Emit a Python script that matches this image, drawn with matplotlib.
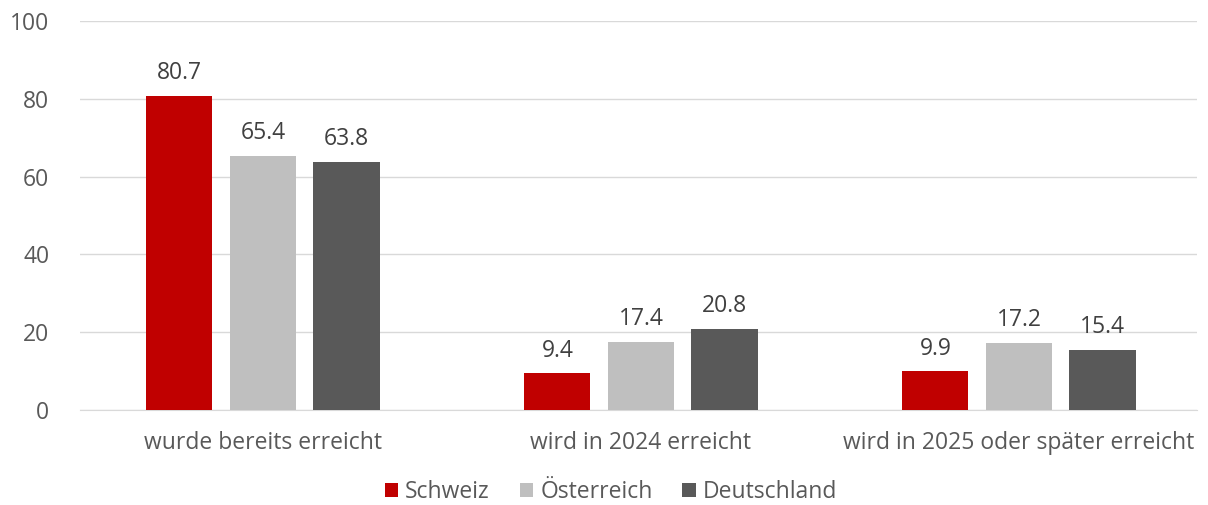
import matplotlib
matplotlib.use("Agg")
import matplotlib.pyplot as plt
import numpy as np

categories = ["wurde bereits erreicht", "wird in 2024 erreicht", "wird in 2025 oder später erreicht"]
series_names = ["Schweiz", "Österreich", "Deutschland"]
schweiz = [80.7, 9.4, 9.9]
oesterreich = [65.4, 17.4, 17.2]
deutschland = [63.8, 20.8, 15.4]
yticks = [0, 20, 40, 60, 80, 100]

colors = ["#C00000", "#BFBFBF", "#595959"]
txt = "#595959"
fs = 16.5
plt.rcParams['font.family'] = ['Open Sans', 'DejaVu Sans']

fig = plt.figure(figsize=(12.08, 5.05), dpi=100)
ax = fig.add_axes([80 / 1208, 1 - 410 / 505, 1117 / 1208, 389 / 505])

x = np.arange(len(categories))
w = 0.175
step = 0.221
for i, (vals, name, c) in enumerate(zip([schweiz, oesterreich, deutschland], series_names, colors)):
    pos = x + (i - 1) * step
    ax.bar(pos, vals, width=w, color=c, label=name, zorder=3)
    for p, v in zip(pos, vals):
        ax.text(p, v + 2.8, f"{v:.1f}", ha="center", va="bottom", fontsize=fs, color="#404040")

ax.set_xlim(-0.484, 2.471)
ax.set_ylim(0, 100)
ax.set_yticks(yticks)
ax.set_xticks(x)
ax.set_xticklabels(categories)
ax.tick_params(axis="both", length=0, labelsize=fs, colors=txt)
ax.tick_params(axis="x", pad=15)
ax.tick_params(axis="y", pad=22)
ax.grid(axis="y", color="#D9D9D9", linewidth=1, zorder=0)
for s in ["top", "right", "left"]:
    ax.spines[s].set_visible(False)
ax.spines["bottom"].set_color("#D9D9D9")

leg = fig.legend(loc="center", bbox_to_anchor=(611 / 1208, 1 - 492 / 505), ncol=3, frameon=False,
                 fontsize=fs, handlelength=0.6, handleheight=0.6, handletextpad=0.3, columnspacing=1.3,
                 borderpad=0)
for t in leg.get_texts():
    t.set_color(txt)

fig.savefig("out.png", dpi=100)
